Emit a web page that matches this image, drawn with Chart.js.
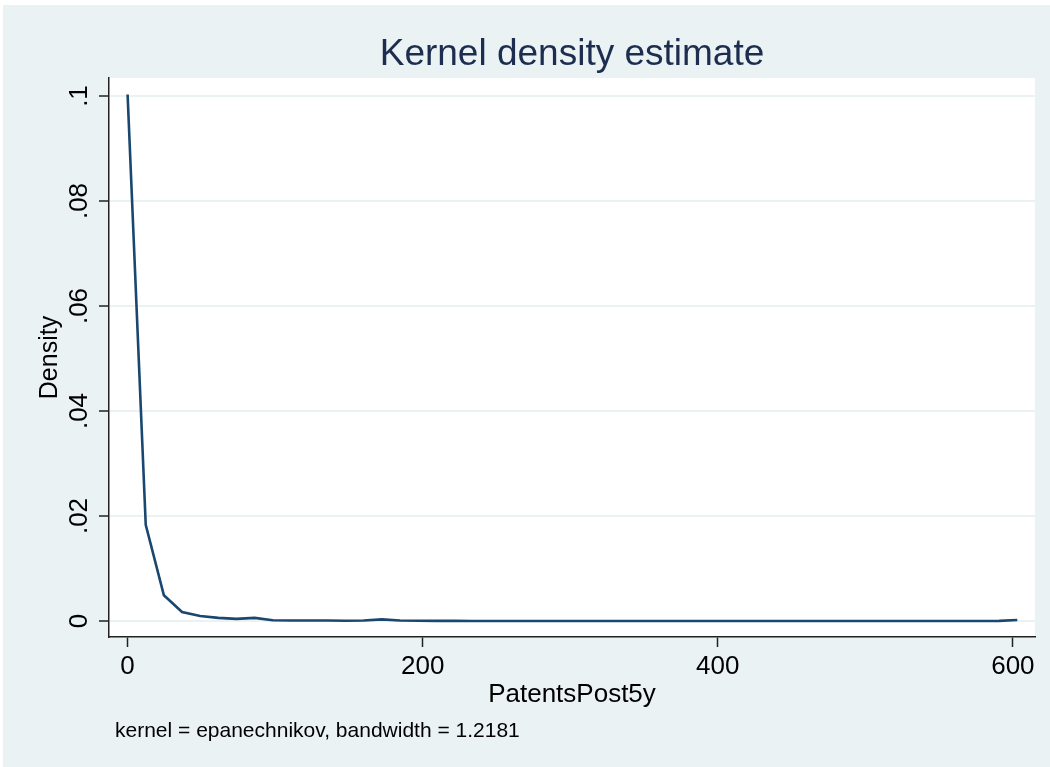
<!DOCTYPE html>
<html>
<head>
<meta charset="utf-8">
<script src="https://cdn.jsdelivr.net/npm/chart.js@4"></script>
<style>
  body { margin: 0; background: #fff; }
  canvas { display: block; }
</style>
</head>
<body>
<canvas id="myChart" width="1050" height="767"></canvas>
<script>
'use strict';

// evaluation points of the density (PatentsPost5y)
const xPoints = [
  0, 12.3, 24.6, 36.9, 49.2, 61.5, 73.8, 86.1, 98.4, 110.8,
  123.1, 135.4, 147.7, 160.0, 172.3, 184.6, 196.9, 209.2, 221.5, 233.8,
  246.1, 258.4, 270.7, 283.0, 295.3, 307.7, 320.0, 332.3, 344.6, 356.9,
  369.2, 381.5, 393.8, 406.1, 418.4, 430.7, 443.0, 455.3, 467.6, 479.9,
  492.2, 504.6, 516.9, 529.2, 541.5, 553.8, 566.1, 578.4, 590.7, 603.0
];

// density values
const density = [
  0.1003, 0.0183, 0.0049, 0.0017, 0.00095, 0.0006, 0.0004, 0.0006, 0.00015, 0.0001,
  0.0001, 0.00008, 0.00005, 0.00008, 0.0003, 0.0001, 0.00005, 0.00002, 0.00002, 0.00001,
  0, 0, 0, 0, 0, 0, 0, 0, 0, 0,
  0, 0, 0, 0, 0, 0, 0, 0, 0, 0,
  0, 0, 0, 0, 0, 0, 0, 0, 0.00002, 0.0002
];

const xTicks = [0, 200, 400, 600];
const yTicks = [0, 0.02, 0.04, 0.06, 0.08, 0.1];
const yTickLabels = ['0', '.02', '.04', '.06', '.08', '.1'];

const chartTitle = 'Kernel density estimate';
const xTitle = 'PatentsPost5y';
const yTitle = 'Density';
const note = 'kernel = epanechnikov, bandwidth = 1.2181';

const FONT = "'Liberation Sans', Arial, Helvetica, sans-serif";
const BG = '#eaf2f3';

// background: outer light blue, plot region white
const backgroundPlugin = {
  id: 'bg',
  beforeDraw(chart) {
    const ctx = chart.ctx;
    const a = chart.chartArea;
    ctx.save();
    ctx.fillStyle = '#ffffff';
    ctx.fillRect(0, 0, chart.width, chart.height);
    ctx.fillStyle = BG;
    ctx.fillRect(3, 5, chart.width, chart.height);
    ctx.fillStyle = '#ffffff';
    ctx.fillRect(a.left, a.top, a.right - a.left, a.bottom - a.top);
    ctx.restore();
  }
};

// title centred over the plot region, and the note under the axis
const textPlugin = {
  id: 'texts',
  afterDraw(chart) {
    const ctx = chart.ctx;
    const a = chart.chartArea;
    ctx.save();
    ctx.fillStyle = '#1c2d50';
    ctx.font = '37px ' + FONT;
    ctx.textAlign = 'center';
    ctx.textBaseline = 'alphabetic';
    ctx.fillText(chartTitle, (a.left + a.right) / 2, 65);
    ctx.fillStyle = '#000000';
    ctx.font = '21px ' + FONT;
    ctx.textAlign = 'left';
    ctx.fillText(note, 115, 737);
    ctx.restore();
  }
};

const points = [];
for (let i = 0; i < xPoints.length; i++) {
  points.push({x: xPoints[i], y: density[i]});
}

const ctx = document.getElementById('myChart').getContext('2d');
const chart = new Chart(ctx, {
  type: 'line',
  data: {
    datasets: [{
      data: points,
      borderColor: '#1a476f',
      borderWidth: 2.6,
      pointRadius: 0,
      tension: 0,
      fill: false
    }]
  },
  options: {
    responsive: false,
    animation: false,
    layout: {
      padding: {top: 78, right: 15, bottom: 0, left: 0}
    },
    plugins: {
      legend: {display: false},
      tooltip: {enabled: false},
      title: {display: false}
    },
    scales: {
      x: {
        type: 'linear',
        min: -12.6,
        max: 615,
        afterFit(scale) { scale.height = 130; },
        afterBuildTicks(scale) {
          scale.ticks = xTicks.map(v => ({value: v}));
        },
        ticks: {
          color: '#000',
          font: {family: FONT, size: 26},
          padding: 4,
          maxRotation: 0,
          callback: v => String(v)
        },
        grid: {
          drawOnChartArea: false,
          drawTicks: true,
          tickLength: 10,
          tickColor: '#222',
          tickWidth: 1.5
        },
        border: {display: true, color: '#222', width: 1.5},
        title: {
          display: true,
          text: xTitle,
          color: '#000',
          font: {family: FONT, size: 26},
          padding: {top: 0, bottom: 57}
        }
      },
      y: {
        type: 'linear',
        min: -0.00305,
        max: 0.10343,
        afterFit(scale) { scale.width = 109; },
        afterBuildTicks(scale) {
          scale.ticks = yTicks.map(v => ({value: v}));
        },
        ticks: {
          color: '#000',
          font: {family: FONT, size: 26},
          padding: 1,
          minRotation: 90,
          maxRotation: 90,
          crossAlign: 'center',
          callback: (v, i) => yTickLabels[i]
        },
        grid: {
          color: BG,
          lineWidth: 2,
          drawTicks: true,
          tickLength: 10,
          tickColor: '#222',
          tickWidth: 1.5
        },
        border: {display: true, color: '#222', width: 1.5},
        title: {
          display: true,
          text: yTitle,
          color: '#000',
          font: {family: FONT, size: 25},
          padding: {top: 35, bottom: 0}
        }
      }
    }
  },
  plugins: [backgroundPlugin, textPlugin]
});
</script>
</body>
</html>
